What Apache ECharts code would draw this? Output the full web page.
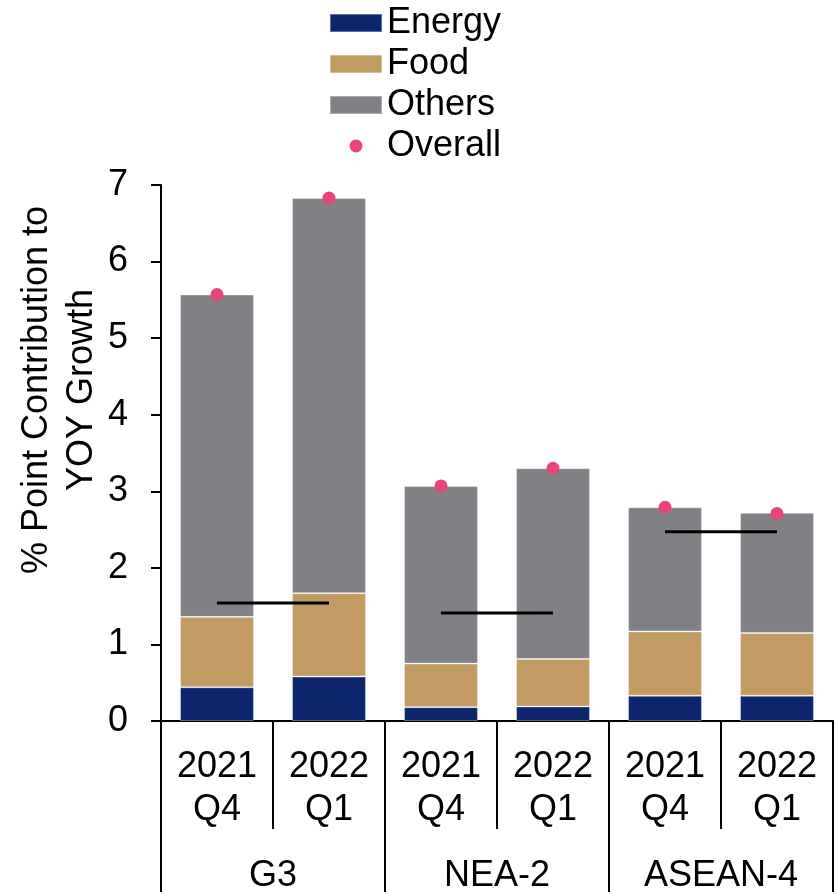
<!DOCTYPE html>
<html>
<head>
<meta charset="utf-8">
<script src="https://cdn.jsdelivr.net/npm/echarts@6/dist/echarts.min.js"></script>
<style>
  html, body { margin: 0; padding: 0; background: #fff; }
  #chart { width: 838px; height: 894px; }
</style>
</head>
<body>
<div id="chart"></div>
<script>
// Quarterly categories and the economy groups they belong to
const periods = ['2021\nQ4', '2022\nQ1', '2021\nQ4', '2022\nQ1', '2021\nQ4', '2022\nQ1'];
const groups = ['G3', 'NEA-2', 'ASEAN-4'];

// % point contribution to YOY growth, stacked by component
const energy = [0.44, 0.58, 0.18, 0.19, 0.33, 0.33];
const food   = [0.92, 1.09, 0.57, 0.62, 0.84, 0.82];
const others = [4.21, 5.16, 2.32, 2.49, 1.62, 1.57];
const overall = [5.57, 6.83, 3.07, 3.30, 2.79, 2.71];

// Reference level for each group, spanning its two quarters
const groupLevel = [1.54, 1.41, 2.47];

const yTicks = { min: 0, max: 7, interval: 1 };

const FONT = '"Liberation Sans", Arial, sans-serif';
const C_ENERGY = '#0c256d';
const C_FOOD = '#c29b63';
const C_OTHERS = '#818185';
const C_OVERALL = '#e8467b';

const dotIcon = 'image://data:image/svg+xml;utf8,' + encodeURIComponent(
  '<svg xmlns="http://www.w3.org/2000/svg" width="52" height="18" viewBox="0 0 52 18">' +
  '<circle cx="26" cy="9" r="6.5" fill="' + C_OVERALL + '"/></svg>');

// One line segment per group: values only at that group's two quarters
const levelSeries = groupLevel.map((v, g) => ({
  type: 'line',
  name: 'level-' + groups[g],
  xAxisIndex: 0,
  data: periods.map((_, i) => (Math.floor(i / 2) === g ? v : '-')),
  symbol: 'none',
  lineStyle: { color: '#000', width: 3 },
  z: 5,
  silent: true
}));

const barStyle = (color) => ({ color, borderColor: 'rgba(255,255,255,0.35)', borderWidth: 1 });

const chart = echarts.init(document.getElementById('chart'), null, { renderer: 'canvas' });

chart.setOption({
  animation: false,
  backgroundColor: '#fff',
  textStyle: { fontFamily: FONT },
  grid: { left: 161, right: 5, top: 185, bottom: 171, containLabel: false },
  legend: {
    orient: 'vertical',
    left: 329,
    top: 5,
    padding: 0,
    itemWidth: 52,
    itemHeight: 18,
    itemGap: 5,
    textStyle: { fontFamily: FONT, fontSize: 36, color: '#000', lineHeight: 36 },
    data: [
      { name: 'Energy', icon: 'rect' },
      { name: 'Food', icon: 'rect' },
      { name: 'Others', icon: 'rect' },
      { name: 'Overall', icon: dotIcon }
    ],
    selectedMode: false
  },
  xAxis: [
    {
      type: 'category',
      data: periods,
      position: 'bottom',
      axisLine: { show: true, lineStyle: { color: '#000', width: 2 } },
      axisTick: { show: true, interval: 0, length: 108, lineStyle: { color: '#000', width: 2 } },
      axisLabel: {
        interval: 0, margin: 25, color: '#000', fontFamily: FONT, fontSize: 36, lineHeight: 43
      }
    },
    {
      type: 'category',
      data: groups,
      position: 'bottom',
      offset: 108,
      axisLine: { show: false },
      axisTick: { show: true, interval: 0, length: 63, lineStyle: { color: '#000', width: 2 } },
      axisLabel: { interval: 0, margin: 29, color: '#000', fontFamily: FONT, fontSize: 36 }
    }
  ],
  yAxis: {
    type: 'value',
    min: yTicks.min,
    max: yTicks.max,
    interval: yTicks.interval,
    splitLine: { show: false },
    axisLine: { show: true, lineStyle: { color: '#000', width: 2 } },
    axisTick: { show: true, length: 10, lineStyle: { color: '#000', width: 2 } },
    axisLabel: { margin: 33, color: '#000', fontFamily: FONT, fontSize: 36 }
  },
  graphic: [{
    type: 'text',
    x: 60,
    y: 390,
    rotation: Math.PI / 2,
    style: {
      text: '% Point Contribution to\nYOY Growth',
      fill: '#000',
      font: '36px ' + FONT,
      lineHeight: 45,
      align: 'center',
      verticalAlign: 'middle'
    }
  }],
  series: [
    { type: 'bar', name: 'Energy', stack: 'total', barWidth: '66%', data: energy, itemStyle: barStyle(C_ENERGY) },
    { type: 'bar', name: 'Food', stack: 'total', barWidth: '66%', data: food, itemStyle: barStyle(C_FOOD) },
    { type: 'bar', name: 'Others', stack: 'total', barWidth: '66%', data: others, itemStyle: barStyle(C_OTHERS) },
    ...levelSeries,
    {
      type: 'scatter', name: 'Overall', data: overall, symbol: 'circle', symbolSize: 13,
      itemStyle: { color: C_OVERALL, opacity: 1 }, z: 6
    }
  ]
});
</script>
</body>
</html>
